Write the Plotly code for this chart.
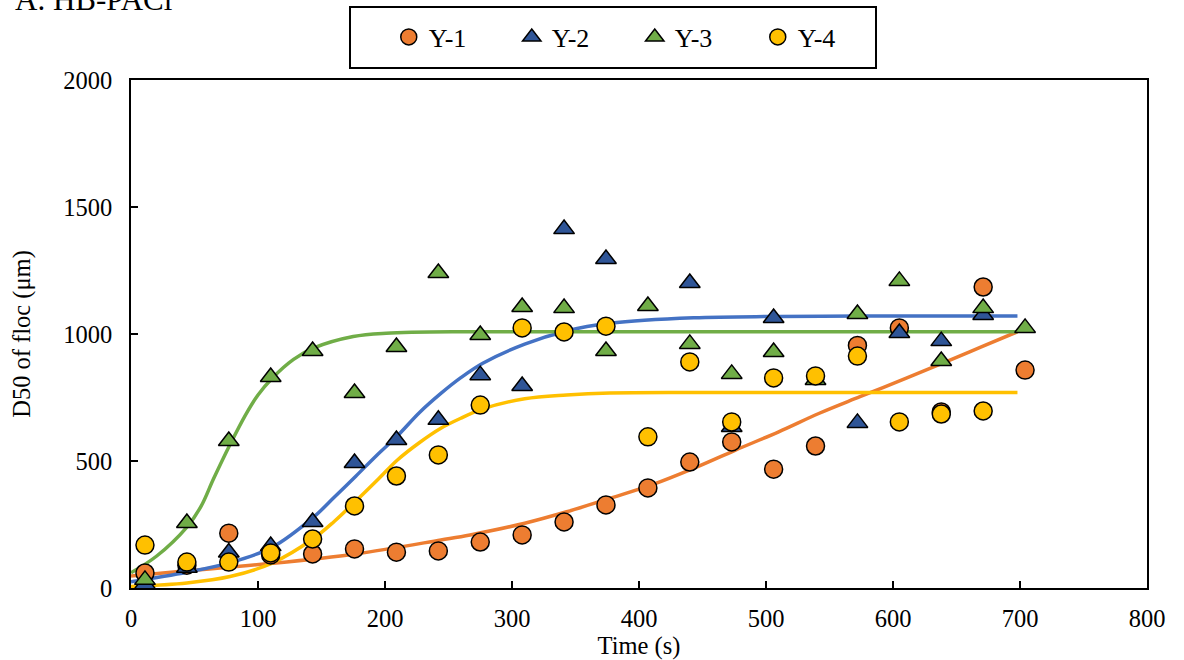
import plotly.graph_objects as go

# ---- data ----
times = [11, 44, 77, 110, 143, 176, 209, 242, 275, 308, 341, 374, 407, 440,
         473, 506, 539, 572, 605, 638, 671, 704]

y1 = [59, 90, 216, 130, 134, 154, 141, 146, 181, 209, 260, 327, 394, 496,
      575, 468, 559, 955, 1024, 693, 1185, 858]
y2 = [15, 80, 140, 165, 260, 492, 583, 662, 838, 795, 1413, 1295, None, 1201,
      634, 1063, None, 650, 1004, 972, 1075, None]
y3 = [32, 256, 579, 831, 933, 768, 949, 1240, 996, 1106, 1102, 933, 1110, 961,
      843, 929, 819, 1079, 1209, 894, 1102, 1024]
y4 = [169, 102, 102, 138, 193, 323, 441, 524, 720, 1024, 1008, 1031, 595, 890,
      654, 827, 835, 913, 654, 685, 697, None]

# fitted curves
fit1_t = [0, 44, 111, 177, 244, 267, 310, 343, 377, 410, 443, 476, 510, 542, 574, 610, 642, 670, 698]
fit1_y = [47, 68, 97, 134, 189, 209, 255, 300, 353, 406, 471, 543, 615, 688, 753, 825, 891, 950, 1009]

fit2_t = [0, 44, 78, 111, 144, 160, 177, 193, 210, 227, 244, 260, 277, 310, 343, 377, 443, 510, 574, 640, 698]
fit2_y = [25, 62, 100, 160, 280, 357, 440, 520, 600, 690, 766, 829, 885, 960, 1012, 1042, 1064, 1069, 1071, 1071, 1071]

fit3_t = [0, 20, 44, 55, 65, 78, 90, 100, 111, 128, 144, 175, 201, 267, 400, 550, 698]
fit3_y = [60, 125, 240, 320, 430, 565, 680, 760, 825, 900, 945, 990, 1003, 1009, 1009, 1009, 1009]

fit4_t = [0, 44, 78, 111, 144, 160, 177, 195, 210, 227, 244, 260, 277, 310, 343, 377, 443, 550, 698]
fit4_y = [6, 20, 45, 98, 196, 262, 342, 430, 505, 572, 629, 669, 705, 745, 760, 768, 770, 770, 770]

names = ["Y-1", "Y-2", "Y-3", "Y-4"]
marker_colors = ["#ED7D31", "#2F5597", "#70AD47", "#FFC000"]
line_colors = ["#ED7D31", "#4472C4", "#70AD47", "#FFC000"]
symbols = ["circle", "triangle-up", "triangle-up", "circle"]

x_ticks = [0, 100, 200, 300, 400, 500, 600, 700, 800]
y_ticks = [0, 500, 1000, 1500, 2000]

FONT = "Liberation Serif"

fig = go.Figure()

fits = [(fit1_t, fit1_y), (fit2_t, fit2_y), (fit3_t, fit3_y), (fit4_t, fit4_y)]
for (ft, fy), c in zip(fits, line_colors):
    fig.add_trace(go.Scatter(x=ft, y=fy, mode="lines",
                             line=dict(color=c, width=3.5, shape="spline", smoothing=1.0),
                             showlegend=False, hoverinfo="skip"))

for name, ys, mc, sym in zip(names, [y1, y2, y3, y4], marker_colors, symbols):
    fig.add_trace(go.Scatter(x=times, y=ys, mode="markers", name=name,
                             marker=dict(symbol=sym, color=mc, size=18,
                                         line=dict(color="black", width=1.5))))

fig.update_layout(
    width=1184, height=660,
    margin=dict(l=131, r=37, t=80, b=72, autoexpand=False),
    paper_bgcolor="white", plot_bgcolor="white",
    font=dict(family=FONT, size=24.5, color="black"),
    showlegend=True,
    legend=dict(orientation="h", x=0.2537, y=1.0846, xanchor="left", yanchor="middle",
                bgcolor="rgba(0,0,0,0)", borderwidth=0, font=dict(size=26, family=FONT),
                entrywidth=78, traceorder="normal"),
    shapes=[dict(type="rect", xref="paper", yref="paper",
                 x0=(350 - 131) / 1016, x1=(876 - 131) / 1016,
                 y0=(588 - 68) / 508, y1=(588 - 7) / 508,
                 line=dict(color="black", width=2), fillcolor="rgba(0,0,0,0)")],
    annotations=[dict(text="A. HB-PACl", xref="paper", yref="paper",
                      x=(13 - 131) / 1016, y=1.1594, xanchor="left", yanchor="middle",
                      showarrow=False, font=dict(size=31, family=FONT))],
)

fig.update_xaxes(range=[0, 800], tickvals=x_ticks, ticks="inside", ticklen=7, tickwidth=1.5,
                 tickcolor="black", showline=True, linecolor="black", linewidth=1.5, mirror=True,
                 showgrid=False, zeroline=False, ticklabelstandoff=8, automargin=False,
                 title=dict(text="Time (s)", standoff=4, font=dict(size=24.5, family=FONT)))
fig.update_yaxes(range=[0, 2000], tickvals=y_ticks, ticks="inside", ticklen=7, tickwidth=1.5,
                 tickcolor="black", showline=True, linecolor="black", linewidth=1.5, mirror=True,
                 showgrid=False, zeroline=False, ticklabelstandoff=12, automargin=False,
                 title=dict(text="D50 of floc (μm)", standoff=26, font=dict(size=24.5, family=FONT)))

# remove the default 8px page margin so the figure fills the window exactly
fig.write_html("out.html", config={"displayModeBar": False},
               post_script="document.body.style.margin='0px';")
